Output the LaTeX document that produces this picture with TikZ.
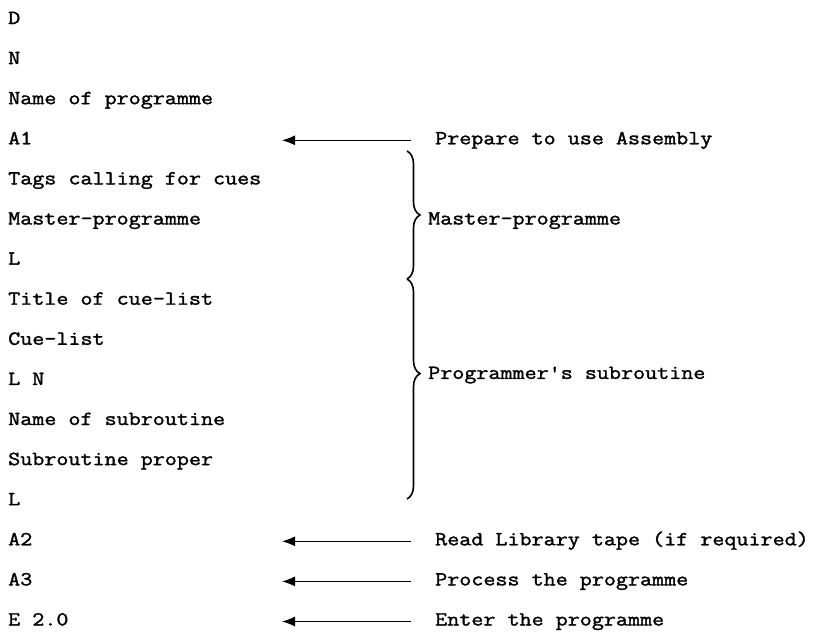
\documentclass[tikz,border=0pt]{standalone}
\usepackage{fontspec}
\newfontfamily\tapefont{Latin Modern Mono}[FakeStretch=1.17, FakeBold=1.6]
\usetikzlibrary{positioning, arrows.meta, decorations.pathreplacing}

\tikzset{
  item/.style={inner sep=0pt, text height=12pt, text depth=4pt,
    font=\tapefont\fontsize{20}{24}\selectfont},
  note/.style={item, anchor=west},
  pointer/.style={-{Latex[length=13pt, width=10pt]}, line width=1.1pt},
  curly/.style={decorate, decoration={brace, amplitude=13pt}, line width=1.6pt}
}

\begin{document}
\begin{tikzpicture}[x=1pt, y=-1pt, node distance=23.7pt]
    \useasboundingbox (0,0) rectangle (817,633);
    % column of tape items
    \node (d) [item, anchor=west] at (8,20) {D};
    \node (n) [item, below=of d.south west, anchor=north west] {N};
    \node (name) [item, below=of n.south west, anchor=north west] {Name of programme};
    \node (a1) [item, below=of name.south west, anchor=north west] {A1};
    \node (tags) [item, below=of a1.south west, anchor=north west] {Tags calling for cues};
    \node (master) [item, below=of tags.south west, anchor=north west] {Master-programme};
    \node (l1) [item, below=of master.south west, anchor=north west] {L};
    \node (title) [item, below=of l1.south west, anchor=north west] {Title of cue-list};
    \node (cue) [item, below=of title.south west, anchor=north west] {Cue-list};
    \node (ln) [item, below=of cue.south west, anchor=north west] {L N};
    \node (subname) [item, below=of ln.south west, anchor=north west] {Name of subroutine};
    \node (sub) [item, below=of subname.south west, anchor=north west] {Subroutine proper};
    \node (l2) [item, below=of sub.south west, anchor=north west] {L};
    \node (a2) [item, below=of l2.south west, anchor=north west] {A2};
    \node (a3) [item, below=of a2.south west, anchor=north west] {A3};
    \node (e) [item, below=of a3.south west, anchor=north west] {E 2.0};
    % columns on the right
    \coordinate (tipx) at (282,0);
    \coordinate (notex) at (435,0);
    \coordinate (labelx) at (428,0);
    \node (prep) [note] at (a1 -| notex) {Prepare to use Assembly};
    \node (read) [note] at (a2 -| notex) {Read Library tape (if required)};
    \node (proc) [note] at (a3 -| notex) {Process the programme};
    \node (enter) [note] at (e -| notex) {Enter the programme};
    \coordinate (prep tip) at (a1 -| tipx);
    \coordinate (read tip) at (a2 -| tipx);
    \coordinate (proc tip) at (a3 -| tipx);
    \coordinate (enter tip) at (e -| tipx);
    \draw [pointer] ([xshift=-24pt]prep.west) -- (prep tip);
    \draw [pointer] ([xshift=-24pt]read.west) -- (read tip);
    \draw [pointer] ([xshift=-24pt]proc.west) -- (proc tip);
    \draw [pointer] ([xshift=-24pt]enter.west) -- (enter tip);
    % braces
    \coordinate (btop) at (407,151);
    \coordinate (bmid) at (407,279);
    \coordinate (bbot) at (407,499);
    \draw [curly] (btop) -- (bmid);
    \draw [curly, decoration={aspect=0.43}] (bmid) -- (bbot);
    \node (mp) [note] at (master -| labelx) {Master-programme};
    \node (ps) [note] at ([yshift=6pt]ln -| labelx) {Programmer's subroutine};
\end{tikzpicture}
\end{document}
